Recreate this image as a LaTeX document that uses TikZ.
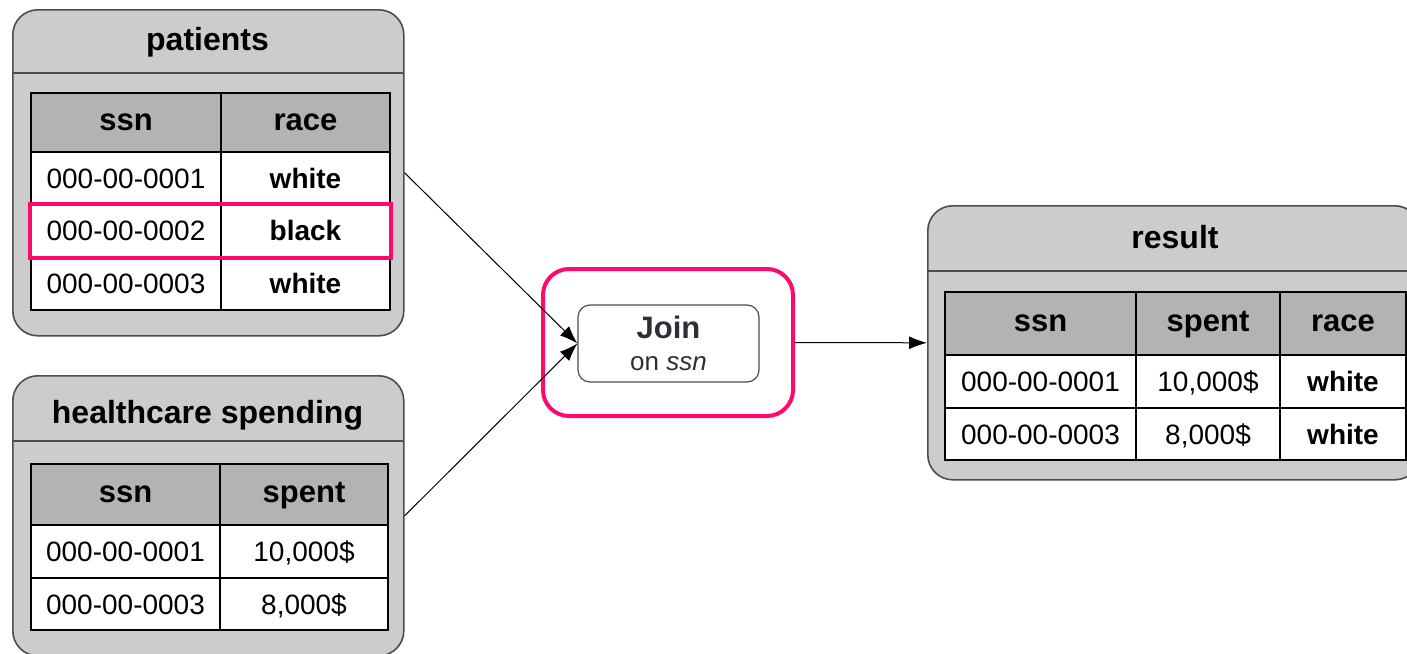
\documentclass[tikz,border=0pt]{standalone}
\usepackage{fontspec}
\setmainfont{Liberation Sans}
\usetikzlibrary{arrows.meta}
\definecolor{boxgray}{HTML}{CCCCCC}
\definecolor{headgray}{HTML}{B3B3B3}
\definecolor{boxline}{HTML}{4D4D4D}
\definecolor{hotpink}{HTML}{FF0A6C}
\definecolor{jointext}{HTML}{2B2F36}

\begin{document}
\begin{tikzpicture}[x=0.5pt, y=-0.5pt, >={Latex[length=9pt,width=6.5pt]},
  tablebox/.style={draw=boxline, fill=boxgray, line width=0.8pt, rounded corners=12.5pt, anchor=north west, inner sep=0pt},
  title/.style={anchor=base, inner sep=0pt, font=\fontsize{16}{19}\selectfont\bfseries},
  headcell/.style={draw=black, fill=headgray, line width=1pt, anchor=north west, inner sep=0pt, text height=8pt, text depth=0pt, font=\fontsize{15.5}{18}\selectfont\bfseries},
  cell/.style={draw=black, fill=white, line width=1pt, anchor=north west, inner sep=0pt, text height=10pt, text depth=0pt, font=\fontsize{14}{17}\selectfont},
  boldcell/.style={cell, font=\fontsize{14}{17}\selectfont\bfseries},
  hilite/.style={draw=hotpink, line width=2pt},
  flow/.style={->, line width=0.5pt, draw=black}]
\clip (0,0) rectangle (1407,653);

% patients
\node[tablebox, minimum width=195.5pt, minimum height=163pt] (patients) at (12,9) {};
\draw[boxline, line width=0.8pt] (12,73) -- (403,73);
\node[title] (patientstitle) at (207.5,50) {patients};
\node[headcell, minimum width=95pt, minimum height=29.5pt] (p11) at (30,92) {ssn};
\node[headcell, minimum width=84.5pt, minimum height=29.5pt] (p12) at (220,92) {race};
\node[cell, minimum width=95pt, minimum height=26.25pt] (p21) at (30,151) {000-00-0001};
\node[boldcell, minimum width=84.5pt, minimum height=26.25pt] (p22) at (220,151) {white};
\node[cell, minimum width=95pt, minimum height=26.25pt] (p31) at (30,203.5) {000-00-0002};
\node[boldcell, minimum width=84.5pt, minimum height=26.25pt] (p32) at (220,203.5) {black};
\node[cell, minimum width=95pt, minimum height=26.25pt] (p41) at (30,256) {000-00-0003};
\node[boldcell, minimum width=84.5pt, minimum height=26.25pt] (p42) at (220,256) {white};
\draw[hilite] (p31.north west) rectangle (p32.south east);

% healthcare spending
\node[tablebox, minimum width=195.5pt, minimum height=140pt] (spending) at (12,375) {};
\draw[boxline, line width=0.8pt] (12,441) -- (403,441);
\node[title] (spendingtitle) at (207.5,423) {healthcare spending};
\node[headcell, minimum width=94.5pt, minimum height=30.5pt] (s11) at (30,463) {ssn};
\node[headcell, minimum width=84pt, minimum height=30.5pt] (s12) at (219,463) {spent};
\node[cell, minimum width=94.5pt, minimum height=26.5pt] (s21) at (30,524) {000-00-0001};
\node[cell, minimum width=84pt, minimum height=26.5pt] (s22) at (219,524) {10,000\$};
\node[cell, minimum width=94.5pt, minimum height=26pt] (s31) at (30,577) {000-00-0003};
\node[cell, minimum width=84pt, minimum height=26pt] (s32) at (219,577) {8,000\$};

% join
\node[draw=hotpink, line width=2pt, rounded corners=13pt, minimum width=125pt, minimum height=73.5pt] (joinframe) at (668,342.5) {};
\node[draw=boxline, line width=0.6pt, rounded corners=6pt, minimum width=90.5pt, minimum height=38.5pt, fill=white, align=center, text=jointext, font=\fontsize{13}{14.5}\selectfont] (join) at (668.5,343.5) {{\fontsize{15.5}{14.5}\selectfont\bfseries Join}\\[1.5pt]on \textit{ssn}};

% result
\node[tablebox, minimum width=246pt, minimum height=137pt] (result) at (927,205) {};
\draw[boxline, line width=0.8pt] (927,271) -- (1419,271);
\node[title] (resulttitle) at (1175,248) {result};
\node[headcell, minimum width=95.5pt, minimum height=31.5pt] (r11) at (944,291) {ssn};
\node[headcell, minimum width=72pt, minimum height=31.5pt] (r12) at (1135,291) {spent};
\node[headcell, minimum width=63pt, minimum height=31.5pt] (r13) at (1279,291) {race};
\node[cell, minimum width=95.5pt, minimum height=26.5pt] (r21) at (944,354) {000-00-0001};
\node[cell, minimum width=72pt, minimum height=26.5pt] (r22) at (1135,354) {10,000\$};
\node[boldcell, minimum width=63pt, minimum height=26.5pt] (r23) at (1279,354) {white};
\node[cell, minimum width=95.5pt, minimum height=26pt] (r31) at (944,407) {000-00-0003};
\node[cell, minimum width=72pt, minimum height=26pt] (r32) at (1135,407) {8,000\$};
\node[boldcell, minimum width=63pt, minimum height=26pt] (r33) at (1279,407) {white};

% connectors
\draw[flow] (patients.east) -- (join.west);
\draw[flow] (spending.east) -- (join.west);
\draw[flow] (joinframe.east) -- (result.west);
\end{tikzpicture}
\end{document}
